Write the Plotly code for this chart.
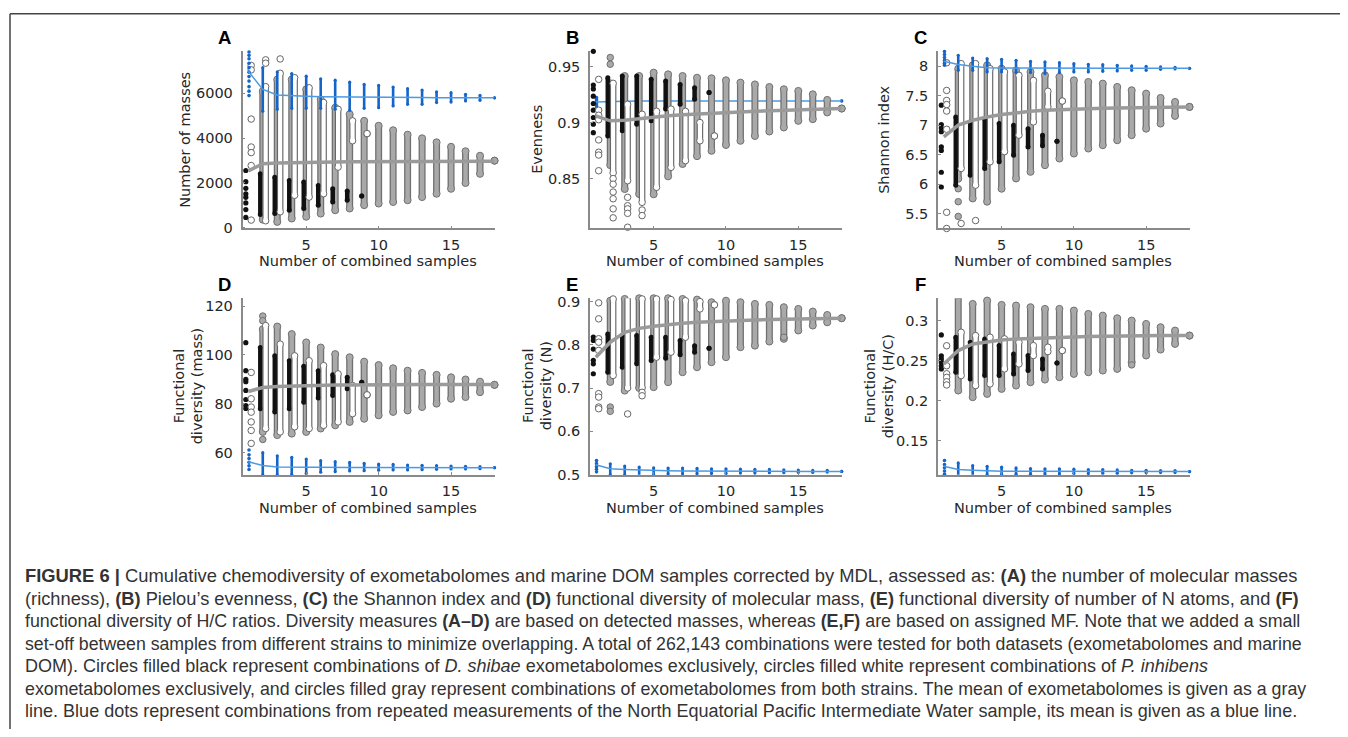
import plotly.graph_objects as go

# ------------------------------------------------------------------ data
N_MEAN = list(range(1, 19))      # n = 1..18 (mean lines)
N_COL = list(range(2, 19))       # n = 2..18 (mixed + blue columns)
N_STR = list(range(2, 10))       # n = 2..9  (single-strain columns)

# ---- A : number of masses
A_n1_black = [2550, 2050, 1750, 1500, 1350, 1100, 800, 450]
A_n1_white = [7250, 7050, 4850, 3600, 3350, 2770, 330]
A_n1_blue = [7850, 7700, 7550, 7350, 7150, 6950, 6750, 6550, 6300, 6100, 5900]
A_gray_hi = [6100, 6620, 6620, 6180, 5730, 5360, 5070, 4770, 4550, 4350, 4150, 3990, 3810, 3610, 3410, 3210, 2990]
A_gray_lo = [350, 250, 400, 480, 620, 770, 850, 1000, 1070, 1140, 1220, 1360, 1510, 1730, 1990, 2400, 2990]
A_black_hi = [2400, 2250, 2100, 2030, 1880, 1730, 1630, 1410]
A_black_lo = [580, 620, 770, 850, 1000, 1140, 1220, 1410]
A_white_hi = [6300, 6900, 6700, 6250, 5590, 5290, 4770, 4200]
A_white_lo = [300, 700, 1440, 1360, 1510, 2700, 3880, 4200]
A_white_out_n = [2, 2, 3]
A_white_out_v = [7500, 7350, 7540]
A_gray_out_n = []
A_gray_out_v = []
A_blue_hi = [7150, 6960, 6890, 6770, 6650, 6590, 6500, 6400, 6360, 6280, 6210, 6150, 6070, 6030, 5960, 5910, 5800]
A_blue_lo = [5200, 5290, 5330, 5330, 5330, 5290, 5240, 5330, 5360, 5440, 5510, 5510, 5590, 5610, 5660, 5690, 5800]
A_gray_mean = [2530, 2850, 2890, 2910, 2920, 2930, 2935, 2940, 2945, 2950, 2955, 2958, 2960, 2962, 2963, 2965, 2966, 2967]
A_blue_mean = [6990, 6180, 5930, 5890, 5870, 5850, 5840, 5830, 5825, 5820, 5815, 5812, 5810, 5808, 5806, 5804, 5802, 5800]

# ---- B : evenness
B_n1_black = [0.9635, 0.9335, 0.930, 0.9235, 0.917, 0.911, 0.9045, 0.8985, 0.891]
B_n1_white = [0.9385, 0.911, 0.9065, 0.9025, 0.8845, 0.8735, 0.871, 0.857]
B_n1_blue = [0.9222, 0.921, 0.9195, 0.918, 0.9165, 0.915, 0.9135]
B_gray_hi = [0.935, 0.9415, 0.9415, 0.9445, 0.943, 0.9415, 0.940, 0.9395, 0.9377, 0.9356, 0.934, 0.9317, 0.9297, 0.9282, 0.9252, 0.9202, 0.9125]
B_gray_lo = [0.862, 0.8407, 0.8362, 0.836, 0.852, 0.863, 0.870, 0.8748, 0.880, 0.8837, 0.888, 0.892, 0.8956, 0.9015, 0.903, 0.909, 0.9125]
B_black_hi = [0.940, 0.9415, 0.9415, 0.9386, 0.937, 0.934, 0.9311, 0.9267]
B_black_lo = [0.888, 0.8926, 0.8985, 0.9015, 0.912, 0.9163, 0.9208, 0.9267]
B_white_hi = [0.935, 0.9163, 0.9074, 0.910, 0.912, 0.910, 0.900, 0.888]
B_white_lo = [0.855, 0.8481, 0.8288, 0.8422, 0.860, 0.866, 0.8837, 0.888]
B_white_out_n = [2, 2, 2, 2, 2, 2, 3, 3, 3, 3, 3, 4, 4]
B_white_out_v = [0.85, 0.845, 0.838, 0.832, 0.823, 0.815, 0.8333, 0.8258, 0.823, 0.819, 0.8066, 0.822, 0.817]
B_gray_out_n = [2, 2]
B_gray_out_v = [0.958, 0.952]
B_blue_hi = [0.9215, 0.9212, 0.921, 0.9208, 0.9206, 0.9205, 0.9204, 0.9203, 0.9202, 0.9201, 0.92, 0.92, 0.9199, 0.9198, 0.9197, 0.9196, 0.9193]
B_blue_lo = [0.917, 0.9173, 0.9176, 0.9178, 0.918, 0.9181, 0.9182, 0.9183, 0.9184, 0.9185, 0.9186, 0.9187, 0.9188, 0.9189, 0.919, 0.9191, 0.9193]
B_gray_mean = [0.906, 0.9015, 0.902, 0.9035, 0.905, 0.906, 0.907, 0.9078, 0.9085, 0.909, 0.9095, 0.910, 0.9105, 0.911, 0.9113, 0.9117, 0.912, 0.9125]
B_blue_mean = [0.9184, 0.919, 0.9191, 0.9192, 0.9192, 0.9192, 0.9193, 0.9193, 0.9193, 0.9193, 0.9193, 0.9193, 0.9193, 0.9193, 0.9193, 0.9193, 0.9193, 0.9193]

# ---- C : Shannon index
C_n1_black = [7.34, 7.01, 6.95, 6.89, 6.63, 6.57, 6.2, 5.95]
C_n1_white = [8.06, 7.59, 7.42, 7.35, 7.24, 6.93, 5.52, 5.245]
C_n1_blue = [8.25, 8.2, 8.15, 8.1, 8.05, 8.02]
C_gray_hi = [7.96, 8.017, 8.017, 7.96, 7.93, 7.904, 7.847, 7.82, 7.762, 7.734, 7.706, 7.65, 7.593, 7.536, 7.463, 7.395, 7.31]
C_gray_lo = [6.09, 5.755, 5.70, 5.92, 6.094, 6.207, 6.32, 6.433, 6.518, 6.603, 6.66, 6.744, 6.83, 6.94, 7.027, 7.157, 7.31]
C_black_hi = [7.14, 7.055, 7.11, 7.027, 7.0, 6.94, 6.83, 6.727]
C_black_lo = [5.98, 6.15, 6.264, 6.377, 6.49, 6.63, 6.65, 6.727]
C_white_hi = [8.045, 8.045, 7.96, 7.904, 7.847, 7.76, 7.576, 7.41]
C_white_lo = [6.264, 5.98, 6.377, 6.55, 6.83, 7.055, 7.31, 7.41]
C_white_out_n = [2, 3]
C_white_out_v = [5.33, 5.38]
C_gray_out_n = [2, 2, 2]
C_gray_out_v = [5.92, 5.70, 5.45]
C_blue_hi = [8.187, 8.141, 8.13, 8.119, 8.102, 8.085, 8.074, 8.062, 8.045, 8.034, 8.028, 8.017, 8.006, 8.0, 7.989, 7.983, 7.966]
C_blue_lo = [7.932, 7.932, 7.904, 7.904, 7.893, 7.893, 7.876, 7.893, 7.904, 7.904, 7.915, 7.921, 7.932, 7.932, 7.949, 7.955, 7.966]
C_gray_mean = [6.80, 7.0, 7.084, 7.14, 7.18, 7.214, 7.236, 7.253, 7.265, 7.27, 7.28, 7.287, 7.293, 7.298, 7.304, 7.306, 7.308, 7.31]
C_blue_mean = [8.085, 8.03, 8.0, 7.977, 7.97, 7.968, 7.967, 7.966, 7.966, 7.966, 7.966, 7.966, 7.966, 7.966, 7.966, 7.966, 7.966, 7.966]

# ---- D : functional diversity (mass)
D_n1_black = [105, 93.5, 90, 89, 85.4, 81.7, 79.2, 78]
D_n1_white = [123.4, 92.8, 82, 78.6, 76.5, 72.5, 69, 63.7]
D_n1_blue = [61, 59, 57.5, 56, 54.5, 53]
D_gray_hi = [110.5, 111.6, 108.5, 105.1, 103, 100.3, 99, 97.2, 95.8, 94.5, 93.5, 92.6, 91.8, 90.8, 89.9, 89, 87.7]
D_gray_lo = [68.4, 67.1, 67.7, 68.4, 69.8, 71.1, 72.5, 73.8, 75.2, 76.6, 77.2, 78.6, 80, 82, 82.7, 84.7, 87.7]
D_black_hi = [103, 99.6, 97.6, 95.3, 93.5, 91.8, 90.8, 88.8]
D_black_lo = [77.9, 76.6, 77.9, 80.6, 82.3, 83.3, 86.1, 88.8]
D_white_hi = [112, 104.4, 99.6, 97.6, 95.6, 92.2, 87.4, 83.6]
D_white_lo = [69.8, 68.4, 70.5, 69.8, 71.1, 72.5, 75.9, 83.6]
D_white_out_n = []
D_white_out_v = []
D_gray_out_n = [2, 2, 2]
D_gray_out_v = [115.9, 114.0, 65.3]
D_blue_hi = [59.9, 58.6, 58.0, 57.3, 56.6, 56.2, 55.9, 55.5, 55.2, 55.1, 54.8, 54.7, 54.57, 54.43, 54.3, 54.16, 53.75]
D_blue_lo = [50.8, 50.8, 51.0, 51.4, 51.9, 52.1, 52.4, 52.5, 52.7, 52.8, 52.8, 52.94, 53.08, 53.21, 53.21, 53.35, 53.75]
D_gray_mean = [85, 86.6, 87.0, 87.2, 87.4, 87.5, 87.6, 87.6, 87.7, 87.7, 87.7, 87.7, 87.8, 87.8, 87.8, 87.8, 87.8, 87.8]
D_blue_mean = [56.2, 54.6, 54.0, 53.9, 53.8, 53.8, 53.8, 53.8, 53.8, 53.8, 53.8, 53.8, 53.8, 53.8, 53.8, 53.8, 53.8, 53.75]

# ---- E : functional diversity (N)
E_n1_black = [0.818, 0.81, 0.79, 0.764, 0.756, 0.733]
E_n1_white = [0.897, 0.86, 0.814, 0.806, 0.787, 0.687, 0.679, 0.656, 0.652]
E_n1_blue = [0.532, 0.525, 0.518, 0.512, 0.506]
E_gray_hi = [0.902, 0.906, 0.9077, 0.9077, 0.9077, 0.906, 0.9046, 0.8985, 0.902, 0.8985, 0.8946, 0.8923, 0.887, 0.883, 0.8769, 0.869, 0.8615]
E_gray_lo = [0.714, 0.694, 0.70, 0.702, 0.7135, 0.7366, 0.748, 0.7597, 0.7713, 0.7944, 0.798, 0.8075, 0.8137, 0.833, 0.8445, 0.852, 0.8615]
E_black_hi = [0.8252, 0.8214, 0.8214, 0.8175, 0.8175, 0.81, 0.798, 0.792]
E_black_lo = [0.7366, 0.748, 0.756, 0.7636, 0.769, 0.7767, 0.7829, 0.792]
E_white_hi = [0.906, 0.91, 0.906, 0.906, 0.9046, 0.902, 0.90, 0.8923]
E_white_lo = [0.729, 0.70, 0.70, 0.7713, 0.7829, 0.8175, 0.883, 0.8923]
E_white_out_n = [3, 4, 4]
E_white_out_v = [0.640, 0.69, 0.682]
E_gray_out_n = [2, 2, 14]
E_gray_out_v = [0.656, 0.646, 0.8175]
E_blue_hi = [0.5247, 0.5193, 0.517, 0.5154, 0.5147, 0.5147, 0.5139, 0.5131, 0.5131, 0.5123, 0.5116, 0.5116, 0.5108, 0.51, 0.5093, 0.5093, 0.507]
E_blue_lo = [0.4993, 0.4993, 0.4977, 0.4993, 0.5008, 0.5016, 0.5016, 0.5023, 0.5023, 0.5031, 0.5031, 0.5039, 0.5039, 0.5046, 0.5046, 0.5054, 0.507]
E_gray_mean = [0.7713, 0.806, 0.829, 0.838, 0.843, 0.8468, 0.85, 0.852, 0.8538, 0.8553, 0.8568, 0.8576, 0.8584, 0.8592, 0.86, 0.8607, 0.8615, 0.8615]
E_blue_mean = [0.5224, 0.513, 0.5116, 0.51, 0.5093, 0.5085, 0.508, 0.5077, 0.5075, 0.5073, 0.5072, 0.5071, 0.507, 0.507, 0.507, 0.507, 0.507, 0.507]

# ---- F : functional diversity (H/C)
F_n1_black = [0.282, 0.256, 0.252, 0.248, 0.2435, 0.2395]
F_n1_white = [0.2685, 0.2435, 0.2335, 0.229, 0.2235, 0.2195]
F_n1_blue = [0.125, 0.12, 0.116, 0.112, 0.108]
F_gray_hi = [0.3292, 0.3208, 0.325, 0.3196, 0.3188, 0.3167, 0.3146, 0.3146, 0.3125, 0.3083, 0.3062, 0.3029, 0.30, 0.2958, 0.2917, 0.2875, 0.2812]
F_gray_lo = [0.2125, 0.2042, 0.2083, 0.2146, 0.2187, 0.2229, 0.2262, 0.2292, 0.2333, 0.2354, 0.2375, 0.2396, 0.2479, 0.2563, 0.2637, 0.2708, 0.2812]
F_black_hi = [0.2792, 0.2729, 0.2771, 0.2687, 0.2583, 0.2563, 0.2521, 0.2471]
F_black_lo = [0.2354, 0.2271, 0.2312, 0.2312, 0.2333, 0.2375, 0.2396, 0.2471]
F_white_hi = [0.2854, 0.2812, 0.2792, 0.2771, 0.2729, 0.2687, 0.2667, 0.2625]
F_white_lo = [0.2312, 0.2187, 0.2208, 0.2396, 0.2458, 0.2563, 0.2612, 0.2625]
F_white_out_n = []
F_white_out_v = []
F_gray_out_n = [14]
F_gray_out_v = [0.2446]
F_blue_hi = [0.122, 0.1187, 0.1179, 0.1167, 0.1158, 0.115, 0.1146, 0.1146, 0.1142, 0.1137, 0.1137, 0.1133, 0.1129, 0.1129, 0.1125, 0.1125, 0.1112]
F_blue_lo = [0.1063, 0.1063, 0.1071, 0.1075, 0.1079, 0.1079, 0.1083, 0.1083, 0.1087, 0.1087, 0.1092, 0.1092, 0.1096, 0.1096, 0.11, 0.11, 0.1112]
F_gray_mean = [0.2458, 0.2625, 0.2708, 0.2737, 0.2758, 0.2771, 0.2779, 0.2787, 0.2792, 0.2796, 0.28, 0.2804, 0.2804, 0.2808, 0.2808, 0.2812, 0.2812, 0.2812]
F_blue_mean = [0.1179, 0.1137, 0.1129, 0.112, 0.1117, 0.1115, 0.1114, 0.1113, 0.1113, 0.1112, 0.1112, 0.1112, 0.1112, 0.1112, 0.1112, 0.1112, 0.1112, 0.1112]

# axis ticks
X_TICKS = [5, 10, 15]
A_yticks = [0, 2000, 4000, 6000]
B_yticks = [0.85, 0.9, 0.95]
C_yticks = [5.5, 6, 6.5, 7, 7.5, 8]
D_yticks = [60, 80, 100, 120]
E_yticks = [0.5, 0.6, 0.7, 0.8, 0.9]
F_yticks = [0.15, 0.2, 0.25, 0.3]
A_ylabels = ["0", "2000", "4000", "6000"]
B_ylabels = ["0.85", "0.9", "0.95"]
C_ylabels = ["5.5", "6", "6.5", "7", "7.5", "8"]
D_ylabels = ["60", "80", "100", "120"]
E_ylabels = ["0.5", "0.6", "0.7", "0.8", "0.9"]
F_ylabels = ["0.15", "0.2", "0.25", "0.3"]

Y_TITLES = ["Number of masses", "Evenness", "Shannon index",
            "Functional<br>diversity (mass)", "Functional<br>diversity (N)",
            "Functional<br>diversity (H/C)"]
X_TITLE = "Number of combined samples"
LETTERS = ["A", "B", "C", "D", "E", "F"]

CAPTION = [
    "<b>FIGURE 6 |</b> Cumulative chemodiversity of exometabolomes and marine DOM samples corrected by MDL, assessed as: <b>(A)</b> the number of molecular masses",
    "(richness), <b>(B)</b> Pielou’s evenness, <b>(C)</b> the Shannon index and <b>(D)</b> functional diversity of molecular mass, <b>(E)</b> functional diversity of number of N atoms, and <b>(F)</b>",
    "functional diversity of H/C ratios. Diversity measures <b>(A–D)</b> are based on detected masses, whereas <b>(E,F)</b> are based on assigned MF. Note that we added a small",
    "set-off between samples from different strains to minimize overlapping. A total of 262,143 combinations were tested for both datasets (exometabolomes and marine",
    "DOM). Circles filled black represent combinations of <i>D. shibae</i> exometabolomes exclusively, circles filled white represent combinations of <i>P. inhibens</i>",
    "exometabolomes exclusively, and circles filled gray represent combinations of exometabolomes from both strains. The mean of exometabolomes is given as a gray",
    "line. Blue dots represent combinations from repeated measurements of the North Equatorial Pacific Intermediate Water sample, its mean is given as a blue line.",
]

# ------------------------------------------------------------------ layout geometry (pixels of the page)
W, H = 1332, 721
OX, OY = 8, 8
VS, VO = 0.984, 4.0   # empirical vertical correction of the photographed page


def px(x):
    return (x - OX) / W


def py(y):
    yp = (y - VO) / VS
    return 1 - (yp - OY) / H


COLS = [(242.5, 494.5), (590, 841.7), (938, 1189.5)]
ROWS = [(50.3, 227.8), (297.7, 474.7)]
Y_RANGES = [[-45, 7880], [0.8055, 0.9635], [5.245, 8.254],
            [50.8, 123.2], [0.499, 0.9077], [0.1071, 0.3279]]
X_RANGE = [0.6, 18.0]
OFF_BLACK, OFF_WHITE = -0.17, 0.2

GRAY_FILL, GRAY_EDGE = "#a9a9a9", "#707070"
WHITE_EDGE = "#666666"
BLACK = "#111111"
BLUE, BLUE_LINE = "#1565c8", "#4c9ae2"
MEAN_GRAY = "#9a9a9a"
AXIS = "#8a8a8a"
TXT = "#262626"

# caption lines: vertical centres and font sizes (the printed caption is justified)
CAP_Y = [576, 598.5, 621, 644, 666.5, 689, 711.5]
CAP_SIZE = [18.38, 18.26, 17.84, 17.72, 18.02, 17.8, 18.04]

panels = [
    dict(n1b=A_n1_black, n1w=A_n1_white, n1u=A_n1_blue, ghi=A_gray_hi, glo=A_gray_lo,
         bhi=A_black_hi, blo=A_black_lo, whi=A_white_hi, wlo=A_white_lo,
         won=A_white_out_n, wov=A_white_out_v, gon=A_gray_out_n, gov=A_gray_out_v,
         uhi=A_blue_hi, ulo=A_blue_lo, gm=A_gray_mean, um=A_blue_mean,
         yt=A_yticks, yl=A_ylabels, blue_top=True),
    dict(n1b=B_n1_black, n1w=B_n1_white, n1u=B_n1_blue, ghi=B_gray_hi, glo=B_gray_lo,
         bhi=B_black_hi, blo=B_black_lo, whi=B_white_hi, wlo=B_white_lo,
         won=B_white_out_n, wov=B_white_out_v, gon=B_gray_out_n, gov=B_gray_out_v,
         uhi=B_blue_hi, ulo=B_blue_lo, gm=B_gray_mean, um=B_blue_mean,
         yt=B_yticks, yl=B_ylabels, blue_top=False),
    dict(n1b=C_n1_black, n1w=C_n1_white, n1u=C_n1_blue, ghi=C_gray_hi, glo=C_gray_lo,
         bhi=C_black_hi, blo=C_black_lo, whi=C_white_hi, wlo=C_white_lo,
         won=C_white_out_n, wov=C_white_out_v, gon=C_gray_out_n, gov=C_gray_out_v,
         uhi=C_blue_hi, ulo=C_blue_lo, gm=C_gray_mean, um=C_blue_mean,
         yt=C_yticks, yl=C_ylabels, blue_top=True),
    dict(n1b=D_n1_black, n1w=D_n1_white, n1u=D_n1_blue, ghi=D_gray_hi, glo=D_gray_lo,
         bhi=D_black_hi, blo=D_black_lo, whi=D_white_hi, wlo=D_white_lo,
         won=D_white_out_n, wov=D_white_out_v, gon=D_gray_out_n, gov=D_gray_out_v,
         uhi=D_blue_hi, ulo=D_blue_lo, gm=D_gray_mean, um=D_blue_mean,
         yt=D_yticks, yl=D_ylabels, blue_top=True),
    dict(n1b=E_n1_black, n1w=E_n1_white, n1u=E_n1_blue, ghi=E_gray_hi, glo=E_gray_lo,
         bhi=E_black_hi, blo=E_black_lo, whi=E_white_hi, wlo=E_white_lo,
         won=E_white_out_n, wov=E_white_out_v, gon=E_gray_out_n, gov=E_gray_out_v,
         uhi=E_blue_hi, ulo=E_blue_lo, gm=E_gray_mean, um=E_blue_mean,
         yt=E_yticks, yl=E_ylabels, blue_top=True),
    dict(n1b=F_n1_black, n1w=F_n1_white, n1u=F_n1_blue, ghi=F_gray_hi, glo=F_gray_lo,
         bhi=F_black_hi, blo=F_black_lo, whi=F_white_hi, wlo=F_white_lo,
         won=F_white_out_n, wov=F_white_out_v, gon=F_gray_out_n, gov=F_gray_out_v,
         uhi=F_blue_hi, ulo=F_blue_lo, gm=F_gray_mean, um=F_blue_mean,
         yt=F_yticks, yl=F_ylabels, blue_top=True),
]

fig = go.Figure()


def tr(xa, ya, **kw):
    fig.add_trace(go.Scatter(xaxis=xa, yaxis=ya, showlegend=False, hoverinfo="skip",
                             cliponaxis=False, **kw))


def segs(ns, lo, hi, off):
    xs, ys, ex, ey = [], [], [], []
    for n, a, b in zip(ns, lo, hi):
        xs += [n + off, n + off, None]
        ys += [a, b, None]
        ex += [n + off, n + off]
        ey += [a, b]
    return xs, ys, ex, ey


def capsule(xa, ya, ns, lo, hi, off, fill, edge, w_out=7.0, w_in=4.4, msize=7):
    xs, ys, ex, ey = segs(ns, lo, hi, off)
    tr(xa, ya, x=xs, y=ys, mode="lines", line=dict(color=edge, width=w_out))
    tr(xa, ya, x=ex, y=ey, mode="markers",
       marker=dict(symbol="circle", size=msize, color=fill, line=dict(color=edge, width=1)))
    tr(xa, ya, x=xs, y=ys, mode="lines", line=dict(color=fill, width=w_in))


def solid(xa, ya, ns, lo, hi, off, color, width, msize):
    xs, ys, ex, ey = segs(ns, lo, hi, off)
    tr(xa, ya, x=xs, y=ys, mode="lines", line=dict(color=color, width=width))
    tr(xa, ya, x=ex, y=ey, mode="markers", marker=dict(size=msize, color=color))


def blue_group(xa, ya, p):
    solid(xa, ya, N_COL, p["ulo"], p["uhi"], 0.0, BLUE, 2.6, 3.2)
    tr(xa, ya, x=[1.05] * len(p["n1u"]), y=p["n1u"], mode="markers",
       marker=dict(size=3.6, color=BLUE))


annotations = []
layout = dict(width=W, height=H, margin=dict(l=0, r=0, t=0, b=0),
              paper_bgcolor="white", plot_bgcolor="white", showlegend=False)

for i, p in enumerate(panels):
    k = "" if i == 0 else str(i + 1)
    xa, ya = "x" + k, "y" + k
    cx0, cx1 = COLS[i % 3]
    ry0, ry1 = ROWS[i // 3]

    if not p["blue_top"]:
        blue_group(xa, ya, p)
        tr(xa, ya, x=N_MEAN, y=p["um"], mode="lines", line=dict(color=BLUE_LINE, width=1.5))

    # mixed-strain combinations (gray)
    capsule(xa, ya, N_COL, p["glo"], p["ghi"], 0.0, GRAY_FILL, GRAY_EDGE)
    if p["gon"]:
        tr(xa, ya, x=p["gon"], y=p["gov"], mode="markers",
           marker=dict(size=6.5, color=GRAY_FILL, line=dict(color=GRAY_EDGE, width=1)))
    # D. shibae only (black)
    solid(xa, ya, N_STR, p["blo"], p["bhi"], OFF_BLACK, BLACK, 4.5, 5)
    tr(xa, ya, x=[1 + OFF_BLACK] * len(p["n1b"]), y=p["n1b"], mode="markers",
       marker=dict(size=5.2, color=BLACK))
    # P. inhibens only (white)
    capsule(xa, ya, N_STR, p["wlo"], p["whi"], OFF_WHITE, "white", WHITE_EDGE, 6.5, 4.2, 6.5)
    wx = [1 + OFF_WHITE] * len(p["n1w"]) + [n + OFF_WHITE for n in p["won"]]
    wy = list(p["n1w"]) + list(p["wov"])
    tr(xa, ya, x=wx, y=wy, mode="markers",
       marker=dict(size=6.5, color="white", line=dict(color=WHITE_EDGE, width=1)))

    if p["blue_top"]:
        blue_group(xa, ya, p)

    # means
    tr(xa, ya, x=N_MEAN, y=p["gm"], mode="lines", line=dict(color=MEAN_GRAY, width=3.5))
    if p["blue_top"]:
        tr(xa, ya, x=N_MEAN, y=p["um"], mode="lines", line=dict(color=BLUE_LINE, width=1.5))

    layout["xaxis" + k] = dict(
        domain=[px(cx0), px(cx1)], range=X_RANGE, anchor=ya, tickvals=X_TICKS,
        ticks="inside", ticklen=3, tickcolor=AXIS, showline=True, linecolor=AXIS,
        linewidth=1.5, showgrid=False, zeroline=False, ticklabelstandoff=2,
        tickfont=dict(family="DejaVu Sans", size=14.5, color=TXT))
    layout["yaxis" + k] = dict(
        domain=[py(ry1), py(ry0)], range=Y_RANGES[i], anchor=xa,
        tickvals=p["yt"], ticktext=p["yl"],
        ticks="inside", ticklen=3, tickcolor=AXIS, showline=True, linecolor=AXIS,
        linewidth=1.5, showgrid=False, zeroline=False, ticklabelstandoff=5,
        tickfont=dict(family="DejaVu Sans", size=14.5, color=TXT))

    # panel letter
    annotations.append(dict(text="<b>%s</b>" % LETTERS[i], xref="paper", yref="paper",
                            x=px(cx0 - 18), y=py(ry0 - 13.5), showarrow=False,
                            xanchor="center", yanchor="middle",
                            font=dict(family="Liberation Sans", size=18.5, color="black")))
    # x title
    annotations.append(dict(text=X_TITLE, xref="paper", yref="paper",
                            x=px((cx0 + cx1) / 2 - 1), y=py(ry1 + 33), showarrow=False,
                            xanchor="center", yanchor="middle",
                            font=dict(family="DejaVu Sans", size=14.5, color=TXT)))

# y titles (centre positions on the page)
YT_POS = [(185, 139), (537, 139), (884, 139), (188, 386), (537, 386), (879, 386)]
for t, (x, y) in zip(Y_TITLES, YT_POS):
    annotations.append(dict(text=t, xref="paper", yref="paper", x=px(x), y=py(y),
                            textangle=-90, showarrow=False, xanchor="center", yanchor="middle",
                            align="center",
                            font=dict(family="DejaVu Sans", size=14.5, color=TXT)))

# caption
for line, y, s in zip(CAPTION, CAP_Y, CAP_SIZE):
    annotations.append(dict(text=line, xref="paper", yref="paper", x=px(23), y=py(y),
                            showarrow=False, xanchor="left", yanchor="middle", align="left",
                            font=dict(family="Liberation Sans", size=s, color="#333333")))

layout["annotations"] = annotations
layout["shapes"] = [
    dict(type="line", xref="paper", yref="paper", x0=px(10), x1=1.05,
         y0=1 - 0.8 / H, y1=1 - 0.8 / H, line=dict(color="#444444", width=1.5)),
    dict(type="line", xref="paper", yref="paper", x0=px(10), x1=px(10),
         y0=1 - 0.8 / H, y1=-0.05, line=dict(color="#444444", width=1.5)),
]

fig.update_layout(**layout)
fig.write_html("out.html")
